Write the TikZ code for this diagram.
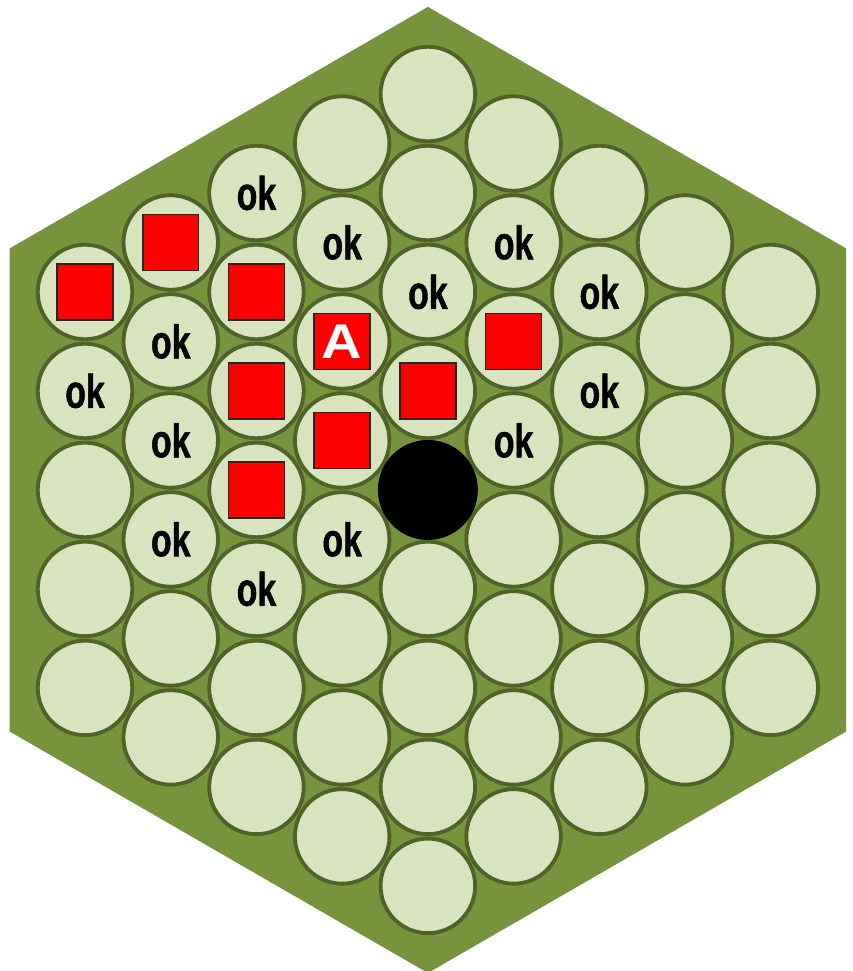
\documentclass[tikz,border=0pt]{standalone}
\usepackage{fontspec}
\setmainfont{Liberation Sans}
\newfontfamily\okfont[BoldFeatures={FakeBold=1.2}]{Liberation Sans}
\usepackage{xcolor}

\definecolor{boardgreen}{HTML}{77933C}
\definecolor{cellfill}{HTML}{D7E4BD}
\definecolor{celledge}{HTML}{4F6228}

\tikzset{
  cell/.style={circle, draw=celledge, fill=cellfill, line width=1.1pt, minimum size=0.955cm, inner sep=0pt},
  redsq/.style={draw=black!85, fill=red, line width=0.45pt, minimum size=0.565cm, inner sep=0pt},
  oktext/.style={font=\okfont\bfseries\fontsize{13.5}{13.5}\selectfont, xscale=0.72},
  stone/.style={circle, fill=black, minimum size=1.01cm, inner sep=0pt}
}

\begin{document}
\begin{tikzpicture}
  \useasboundingbox (-4.323,-4.86) rectangle (4.293,4.95);
  % board
  \fill[boardgreen] (90:4.88) -- (150:4.88) -- (210:4.88) -- (270:4.88) -- (330:4.88) -- (30:4.88) -- cycle;
  % cells, column by column
  \foreach \col in {0,...,8}{
    \pgfmathtruncatemacro{\n}{9-abs(\col-4)}
    \pgfmathtruncatemacro{\last}{\n-1}
    \foreach \i in {0,...,\last}
      \node[cell] (c-\col-\i) at ({(\col-4)*0.866}, {(\n-1)/2-\i}) {};
  }
  % black stone
  \node[stone] (stone) at (c-4-4) {};
  % red squares
  \foreach \c in {0-0,1-0,2-1,2-2,2-3,3-3,4-3,5-2}
    \node[redsq] (sq-\c) at (c-\c) {};
  \node[redsq, text=white, font=\bfseries\fontsize{14}{14}\selectfont] (sq-a) at (c-3-2) {\scalebox{1.15}[1]{A}};
  % ok marks
  \foreach \c in {0-1,1-1,1-2,1-3,2-0,2-4,3-1,3-4,4-2,5-1,5-3,6-1,6-2}
    \node[oktext] (ok-\c) at (c-\c) {ok};
\end{tikzpicture}
\end{document}
